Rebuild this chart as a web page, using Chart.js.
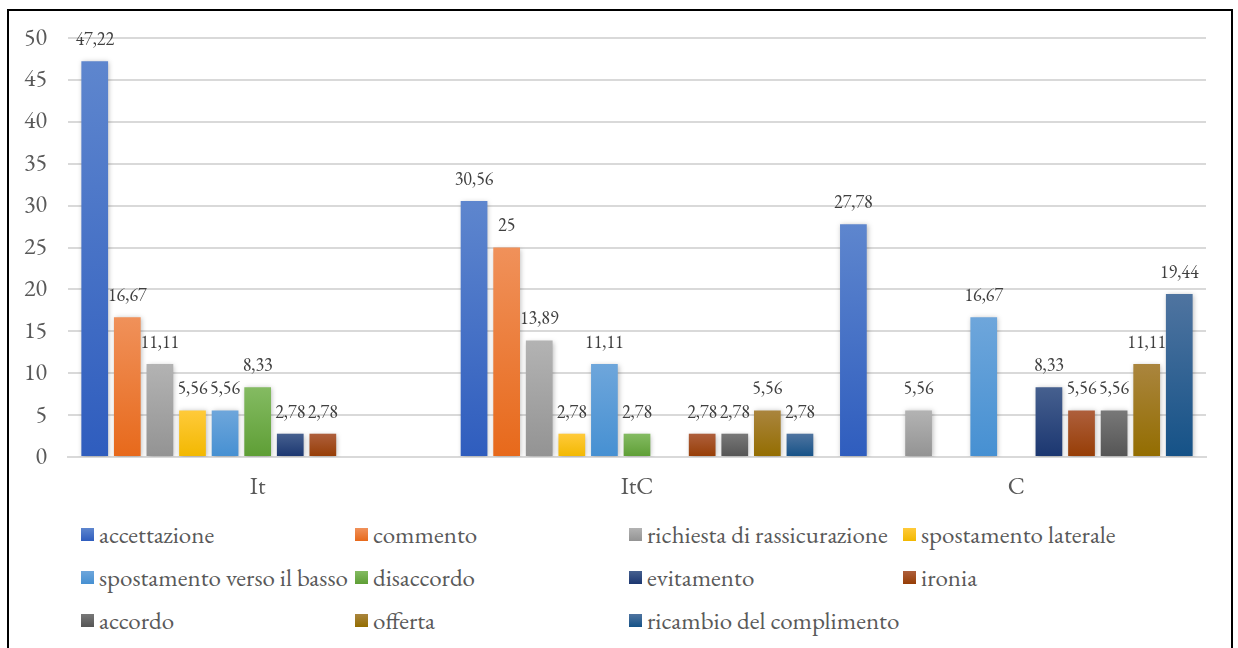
<!DOCTYPE html>
<html>
<head>
<meta charset="utf-8">
<script src="https://cdn.jsdelivr.net/npm/chart.js@4"></script>
<style>
  body { margin: 0; background: #fff; }
  #frame { position: absolute; left: 7px; top: 9px; width: 1226px; height: 650px; border: 2px solid #000; box-sizing: border-box; }
  #wrap { position: absolute; left: 0; top: 0; width: 1238px; height: 512px; }
  #legend { position: absolute; left: 81px; top: 519px; display: grid; grid-template-columns: 274px 274px 274px 300px; grid-auto-rows: 43px; font-family: 'EB Garamond'; font-size: 25px; color: #595959; }
  .item { display: flex; align-items: center; white-space: nowrap; height: 30px; }
  .box { width: 13px; height: 13px; margin-right: 5px; flex: none; }
</style>
</head>
<body>
<div id="frame"></div>
<div id="wrap"><canvas id="chart"></canvas></div>
<div id="legend"></div>
<script>
const serif = "'EB Garamond'";

const categories = ["It", "ItC", "C"];

const seriesNames = [
  "accettazione", "commento", "richiesta di rassicurazione", "spostamento laterale",
  "spostamento verso il basso", "disaccordo", "evitamento", "ironia",
  "accordo", "offerta", "ricambio del complimento",
];

// values per series: [It, ItC, C]
const accettazione = [47.22, 30.56, 27.78];
const commento = [16.67, 25, 0];
const richiesta = [11.11, 13.89, 5.56];
const spostLaterale = [5.56, 2.78, 0];
const spostBasso = [5.56, 11.11, 16.67];
const disaccordo = [8.33, 2.78, 0];
const evitamento = [2.78, 0, 8.33];
const ironia = [2.78, 2.78, 5.56];
const accordo = [0, 2.78, 5.56];
const offerta = [0, 5.56, 11.11];
const ricambio = [0, 2.78, 19.44];

const yTicks = [0, 5, 10, 15, 20, 25, 30, 35, 40, 45, 50];

// [top, bottom] gradient colours
const colors = [
  ["#5E86CE", "#2F5DBE"],
  ["#F0915A", "#E7691B"],
  ["#B3B3B3", "#939393"],
  ["#FFCA3A", "#F2B800"],
  ["#6EA6DB", "#4690D2"],
  ["#84BB62", "#5E9E35"],
  ["#46608F", "#1B3670"],
  ["#AE5F3C", "#963D05"],
  ["#787878", "#555555"],
  ["#AA853E", "#936D00"],
  ["#4F74A0", "#155287"],
];

const values = [accettazione, commento, richiesta, spostLaterale, spostBasso,
  disaccordo, evitamento, ironia, accordo, offerta, ricambio];

function barGradient(ctx, i) {
  const chart = ctx.chart;
  const y = chart.scales && chart.scales.y;
  if (!chart.chartArea || !y || ctx.type !== "data") return colors[i][1];
  const top = y.getPixelForValue(ctx.raw);
  const bottom = y.getPixelForValue(0);
  if (!(bottom - top > 0)) return colors[i][1];
  const g = chart.ctx.createLinearGradient(0, top, 0, bottom);
  g.addColorStop(0, colors[i][0]);
  g.addColorStop(1, colors[i][1]);
  return g;
}

const datasets = seriesNames.map((name, i) => ({
  label: name,
  data: values[i],
  backgroundColor: (c) => barGradient(c, i),
  borderWidth: 0,
  categoryPercentage: 0.945,
  barPercentage: 0.82,
}));

function fmt(v) {
  return String(v).replace(".", ",");
}

const shadowPlugin = {
  id: "shadow",
  beforeDatasetsDraw(chart) {
    const c = chart.ctx;
    c.save();
    c.shadowColor = "rgba(0,0,0,0.28)";
    c.shadowBlur = 5;
    c.shadowOffsetX = 1;
    c.shadowOffsetY = 1;
  },
  afterDatasetsDraw(chart) {
    chart.ctx.restore();
  },
};

const labelPlugin = {
  id: "valueLabels",
  afterDatasetsDraw(chart) {
    const c = chart.ctx;
    c.save();
    c.font = "18px " + serif;
    c.fillStyle = "#404040";
    c.textAlign = "center";
    c.textBaseline = "middle";
    chart.data.datasets.forEach((ds, i) => {
      chart.getDatasetMeta(i).data.forEach((bar, j) => {
        const v = ds.data[j];
        if (!v) return;
        c.fillText(fmt(v), bar.x, bar.y - 21);
      });
    });
    c.restore();
  },
};

new Chart(document.getElementById("chart"), {
  type: "bar",
  data: { labels: categories, datasets: datasets },
  plugins: [shadowPlugin, labelPlugin],
  options: {
    responsive: true,
    maintainAspectRatio: false,
    animation: false,
    layout: { padding: { left: 20, right: 32, top: 38, bottom: 0 } },
    plugins: { legend: { display: false }, tooltip: { enabled: false } },
    scales: {
      x: {
        grid: { display: false },
        border: { color: "#D9D9D9", width: 2 },
        ticks: { color: "#595959", font: { family: serif, size: 24 }, padding: 8 },
        afterFit: (s) => { s.height = 55; },
      },
      y: {
        min: 0,
        max: 50,
        afterBuildTicks: (s) => { s.ticks = yTicks.map((v) => ({ value: v })); },
        grid: { color: "#D9D9D9", lineWidth: 2, drawTicks: false },
        border: { display: false },
        ticks: { color: "#595959", font: { family: serif, size: 24 }, padding: 21 },
        afterFit: (s) => { s.width = 48; },
      },
    },
  },
});

const legend = document.getElementById("legend");
seriesNames.forEach((name, i) => {
  const item = document.createElement("div");
  item.className = "item";
  const box = document.createElement("span");
  box.className = "box";
  box.style.background = "linear-gradient(" + colors[i][0] + "," + colors[i][1] + ")";
  const txt = document.createElement("span");
  txt.textContent = name;
  item.appendChild(box);
  item.appendChild(txt);
  legend.appendChild(item);
});
</script>
</body>
</html>
